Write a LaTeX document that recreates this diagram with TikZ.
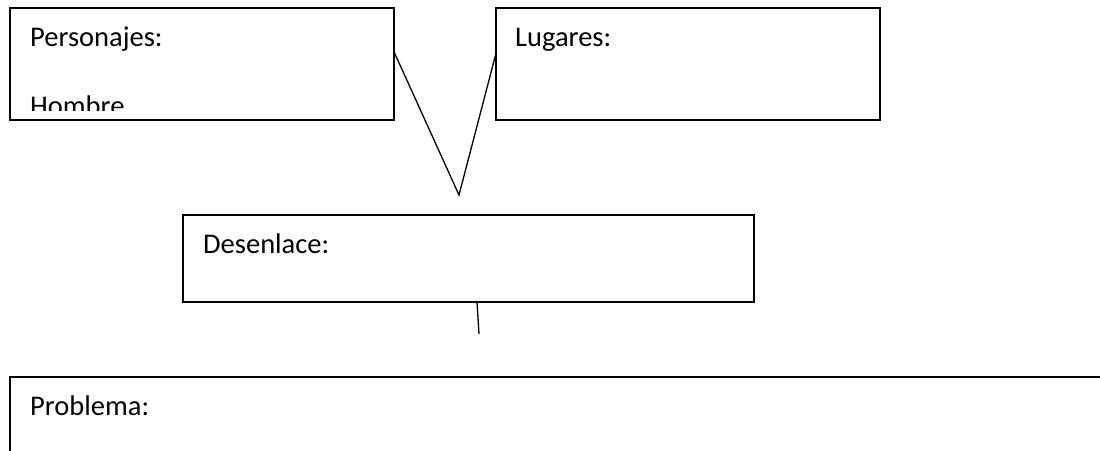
\documentclass[tikz,border=0pt]{standalone}
\usepackage{fontspec}
\setmainfont{Carlito}
\begin{document}
\begin{tikzpicture}[x=1pt,y=-1pt,
  box/.style={draw=black,line width=1.8pt,inner sep=0pt,outer sep=0pt,anchor=north west},
  lbl/.style={inner sep=0pt,anchor=base west,font=\fontsize{28.5}{34}\selectfont},
  conn/.style={draw=black,line width=1.3pt}]
\useasboundingbox (0,0) rectangle (1100,450);
\fill[white] (0,0) rectangle (1100,450);
% boxes
\node[box,minimum width=384pt,minimum height=112pt] (pers) at (10,8.3) {};
\node[box,minimum width=384pt,minimum height=112pt] (lug) at (496,8.3) {};
\node[box,minimum width=571pt,minimum height=87pt] (des) at (183,215) {};
\node[box,minimum width=1110pt,minimum height=110pt] (prob) at (10,377) {};
% texts
\node[lbl] (perst) at (30,46.7) {Personajes:};
\begin{scope}
\clip (10,8.3) rectangle (394,110);
\node[lbl] (homb) at (30,115) {Hombre};
\end{scope}
\node[lbl] (lugt) at (515,46.2) {Lugares:};
\node[lbl] (dest) at (203,253.3) {Desenlace:};
\node[lbl] (probt) at (30,415) {Problema:};
% connectors
\coordinate (apex) at (459,195);
\coordinate (dend) at (479,334);
\draw[conn] ([yshift=12.5pt]pers.east) -- (apex) -- ([yshift=11pt]lug.west);
\draw[conn] ([xshift=8.5pt]des.south) -- (dend);
\end{tikzpicture}
\end{document}
